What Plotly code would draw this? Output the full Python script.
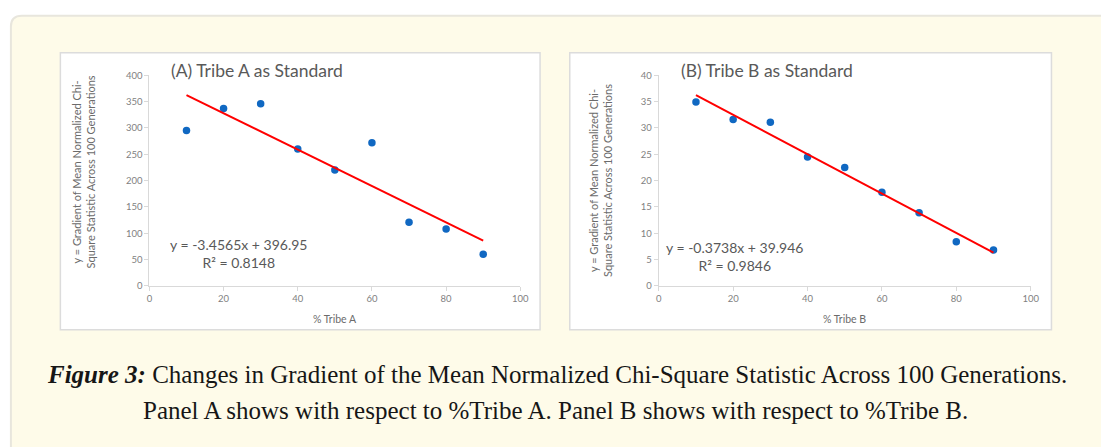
import plotly.graph_objects as go

W, H = 1101, 447

# ---------------- data ----------------
pct_tribe = [10, 20, 30, 40, 50, 60, 70, 80, 90]
grad_a = [295, 337, 346, 260, 220, 272, 121, 108, 60]
grad_b = [34.9, 31.6, 31.1, 24.5, 22.5, 17.8, 13.9, 8.4, 6.8]
trend_a = [-3.4565, 396.95]   # slope, intercept (from chart equation)
trend_b = [-0.3738, 39.946]
r2_a = "0.8148"
r2_b = "0.9846"
panel_titles = ["(A) Tribe A as Standard", "(B) Tribe B as Standard"]
x_titles = ["% Tribe A", "% Tribe B"]
y_title = "y = Gradient of Mean Normalized Chi-<br>Square Statistic Across 100 Generations"
caption_1 = "<b><i>Figure 3:</i></b> Changes in Gradient of the Mean Normalized Chi-Square Statistic Across 100 Generations."
caption_2 = "Panel A shows with respect to %Tribe A. Panel B shows with respect to %Tribe B."


def px(x):
    return x / W


def py(y):
    return 1 - y / H


BLUE = "#1068c2"
RED = "#ff0000"
AXIS = "#d9d9d9"
TXT = "#6b6b6b"
CFONT = "Lato"

fig = go.Figure()

x_ends = [min(pct_tribe), max(pct_tribe)]
for i, (ys, tr) in enumerate([(grad_a, trend_a), (grad_b, trend_b)]):
    xa = "x" if i == 0 else "x2"
    ya = "y" if i == 0 else "y2"
    fig.add_trace(go.Scatter(x=pct_tribe, y=ys, mode="markers", xaxis=xa, yaxis=ya,
                             marker=dict(color=BLUE, size=7.5), showlegend=False,
                             hoverinfo="x+y"))
    fig.add_trace(go.Scatter(x=x_ends, y=[tr[0] * v + tr[1] for v in x_ends], mode="lines",
                             xaxis=xa, yaxis=ya, line=dict(color=RED, width=2),
                             showlegend=False, hoverinfo="skip"))

axis_common = dict(showgrid=False, zeroline=False, showline=True, linecolor=AXIS, linewidth=1,
                   ticks="outside", ticklen=4, tickcolor=AXIS, tickwidth=1,
                   tickfont=dict(family=CFONT, size=9.5, color="#7f7f7f"), fixedrange=True)

y_dom = [py(287), py(71)]
fig.update_layout(
    width=W, height=H,
    margin=dict(l=0, r=0, t=0, b=0),
    paper_bgcolor="white",
    plot_bgcolor="rgba(0,0,0,0)",
    xaxis=dict(domain=[px(148), px(523)], range=[0, 100], dtick=20, anchor="y", **axis_common),
    yaxis=dict(domain=y_dom, range=[0, 400], dtick=50, anchor="x", **axis_common),
    xaxis2=dict(domain=[px(663), px(1039)], range=[0, 100], dtick=20, anchor="y2", **axis_common),
    yaxis2=dict(domain=y_dom, range=[0, 40], dtick=5, anchor="x2", **axis_common),
)

# card background with rounded top-left corner
r = 11
x0, y0, x1, y1 = 8, 10, 1115, 465
path = (f"M {px(x0)} {py(y1)} L {px(x0)} {py(y0 + r)} "
        f"Q {px(x0)} {py(y0)} {px(x0 + r)} {py(y0)} "
        f"L {px(x1)} {py(y0)} L {px(x1)} {py(y1)} Z")
shapes = [dict(type="path", xref="paper", yref="paper", path=path,
               fillcolor="#fefbe9", line=dict(color="#e8e6dd", width=2), layer="below")]
# white panel boxes
for bx0, bx1 in [(58, 543), (573, 1060)]:
    shapes.append(dict(type="rect", xref="paper", yref="paper",
                       x0=px(bx0), x1=px(bx1), y0=py(332), y1=py(48),
                       fillcolor="white", line=dict(color="#dcdcdc", width=1.5), layer="below"))
fig.update_layout(shapes=shapes)

ann = []
# panel titles
for t, lx in zip(panel_titles, [168, 683]):
    ann.append(dict(text=t, x=px(lx), y=py(66), xref="paper", yref="paper",
                    xanchor="left", yanchor="middle", showarrow=False,
                    font=dict(family=CFONT, size=17.5, color="#595959")))
# x titles
for t, cx in zip(x_titles, [336, 851]):
    ann.append(dict(text=t, x=px(cx), y=py(321), xref="paper", yref="paper",
                    xanchor="center", yanchor="middle", showarrow=False,
                    font=dict(family=CFONT, size=10.5, color=TXT)))
# y titles
for cx, cy in [(81.5, 170), (604, 179)]:
    ann.append(dict(text=y_title, x=px(cx), y=py(cy), xref="paper", yref="paper",
                    xanchor="center", yanchor="middle", showarrow=False, textangle=-90,
                    font=dict(family=CFONT, size=11, color=TXT)))
# equations
for tr, r2, cx, cy in [(trend_a, r2_a, 238, 253.5), (trend_b, r2_b, 740, 256.5)]:
    eq = f"y = {tr[0]}x + {tr[1]}<br>R² = {r2}"
    ann.append(dict(text=eq, x=px(cx), y=py(cy), xref="paper", yref="paper",
                    xanchor="center", yanchor="middle", showarrow=False, align="center",
                    font=dict(family=CFONT, size=14, color="#595959")))
# caption
for t, cx, cy in [(caption_1, 560, 378), (caption_2, 558.5, 415)]:
    ann.append(dict(text=t, x=px(cx), y=py(cy), xref="paper", yref="paper",
                    xanchor="center", yanchor="middle", showarrow=False,
                    font=dict(family="Liberation Serif", size=25, color="#161616")))
fig.update_layout(annotations=ann)

fig.write_html("out.html", config={"displayModeBar": False},
               post_script="document.body.style.margin='0';document.body.style.overflow='hidden';")
